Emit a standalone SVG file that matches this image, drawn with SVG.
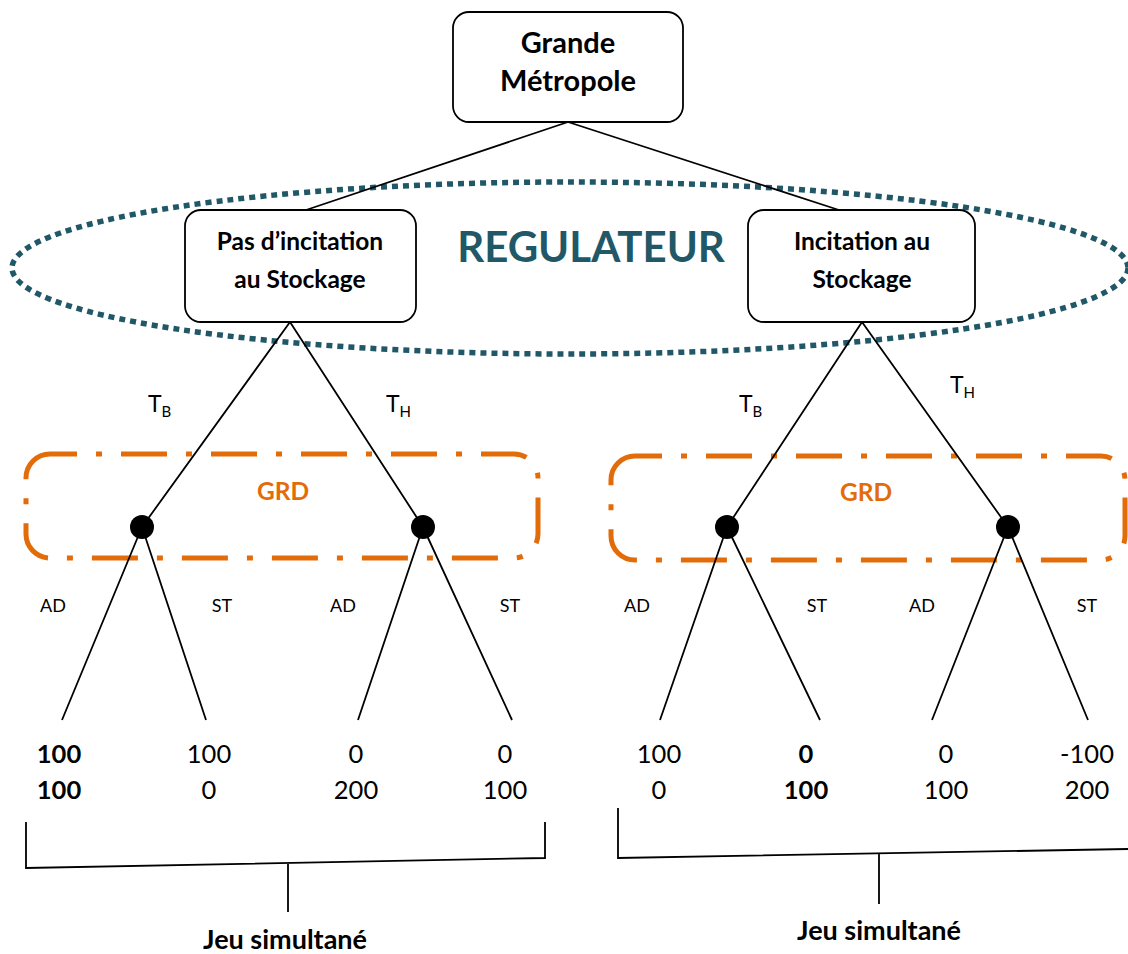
<svg xmlns="http://www.w3.org/2000/svg" width="1128" height="954" viewBox="0 0 1128 954">
<style>
text{font-family:Lato,"Open Sans","Liberation Sans",sans-serif;fill:#000}
.box{fill:#fff;stroke:#000;stroke-width:1.8}
.bt{font-weight:bold;font-size:24.5px;text-anchor:middle}
.tt{font-weight:bold;font-size:29px;text-anchor:middle}
.ln{stroke:#000;stroke-width:1.8;fill:none}
.grd{fill:none;stroke:#E36C0A;stroke-width:5;stroke-dasharray:46 19 6 19;stroke-dashoffset:19}
.gt{font-weight:bold;font-size:24.5px;fill:#E36C0A;text-anchor:middle}
.lab{font-size:18px;text-anchor:middle}
.t{font-size:23px}
.sub{font-size:15px}
.num{font-size:25.5px;text-anchor:middle}
.b{font-weight:bold}
.jt{font-weight:bold;font-size:27px;text-anchor:middle}
</style>
<g id="regulateur">
<ellipse cx="570" cy="268" rx="558" ry="86" fill="none" stroke="#215868" stroke-width="5.5" stroke-dasharray="6 5"/>
<text x="591" y="262" style="font-weight:bold;font-size:42px;fill:#215868;text-anchor:middle">REGULATEUR</text>
</g>
<g id="grd-left">
<rect x="26" y="454" width="512" height="104" rx="24" class="grd"/>
<text x="283" y="500" class="gt">GRD</text>
</g>
<g id="grd-right">
<rect x="611" y="456" width="514" height="104" rx="24" class="grd"/>
<text x="866" y="501" class="gt">GRD</text>
</g>
<g id="connectors">
<path class="ln" d="M568 122 L306 210 M568 122 L839 210"/>
<path class="ln" d="M290 322 L142 527 M290 322 L423 527"/>
<path class="ln" d="M862 322 L727 527 M862 322 L1008 527"/>
<path class="ln" d="M142 527 L62 720 M142 527 L206 720 M423 527 L358 720 M423 527 L512 720"/>
<path class="ln" d="M727 527 L660 720 M727 527 L820 720 M1008 527 L932 720 M1008 527 L1088 720"/>
</g>
<g id="grande-metropole">
<rect x="453" y="12" width="230" height="110" rx="16" class="box"/>
<text x="568" y="53" class="tt">Grande</text>
<text x="568" y="91" class="tt">Métropole</text>
</g>
<g id="pas-incitation">
<rect x="185" y="210" width="231" height="112" rx="16" class="box"/>
<text x="300" y="250" class="bt">Pas d’incitation</text>
<text x="300" y="288" class="bt">au Stockage</text>
</g>
<g id="incitation">
<rect x="748" y="210" width="227" height="112" rx="16" class="box"/>
<text x="862" y="250" class="bt">Incitation au</text>
<text x="862" y="288" class="bt">Stockage</text>
</g>
<g id="tlabels">
<text x="148" y="412" class="t">T<tspan class="sub" dy="5">B</tspan></text>
<text x="386" y="412" class="t">T<tspan class="sub" dy="5">H</tspan></text>
<text x="739" y="412" class="t">T<tspan class="sub" dy="5">B</tspan></text>
<text x="950" y="393" class="t">T<tspan class="sub" dy="5">H</tspan></text>
</g>
<g id="nodes">
<circle cx="142" cy="527" r="12"/>
<circle cx="423" cy="527" r="12"/>
<circle cx="727" cy="527" r="12"/>
<circle cx="1008" cy="527" r="12"/>
</g>
<g id="actions">
<text x="53" y="612" class="lab">AD</text>
<text x="222" y="612" class="lab">ST</text>
<text x="343" y="612" class="lab">AD</text>
<text x="510" y="612" class="lab">ST</text>
<text x="637" y="612" class="lab">AD</text>
<text x="817" y="612" class="lab">ST</text>
<text x="922" y="612" class="lab">AD</text>
<text x="1087" y="612" class="lab">ST</text>
</g>
<g id="payoffs">
<text x="59" y="763" class="num b">100</text>
<text x="59" y="799" class="num b">100</text>
<text x="209" y="763" class="num">100</text>
<text x="209" y="799" class="num">0</text>
<text x="356" y="763" class="num">0</text>
<text x="356" y="799" class="num">200</text>
<text x="505" y="763" class="num">0</text>
<text x="505" y="799" class="num">100</text>
<text x="659" y="763" class="num">100</text>
<text x="659" y="799" class="num">0</text>
<text x="806" y="763" class="num b">0</text>
<text x="806" y="799" class="num b">100</text>
<text x="946" y="763" class="num">0</text>
<text x="946" y="799" class="num">100</text>
<text x="1087" y="763" class="num">-100</text>
<text x="1087" y="799" class="num">200</text>
</g>
<g id="jeu-left">
<path class="ln" d="M26 822 L26 868 L545 858 L545 822 M288 864 L288 912"/>
<text x="285" y="949" class="jt">Jeu simultané</text>
</g>
<g id="jeu-right">
<path class="ln" d="M618 808 L618 858 L1128 849 M879 854 L879 904"/>
<text x="879" y="940" class="jt">Jeu simultané</text>
</g>
</svg>
